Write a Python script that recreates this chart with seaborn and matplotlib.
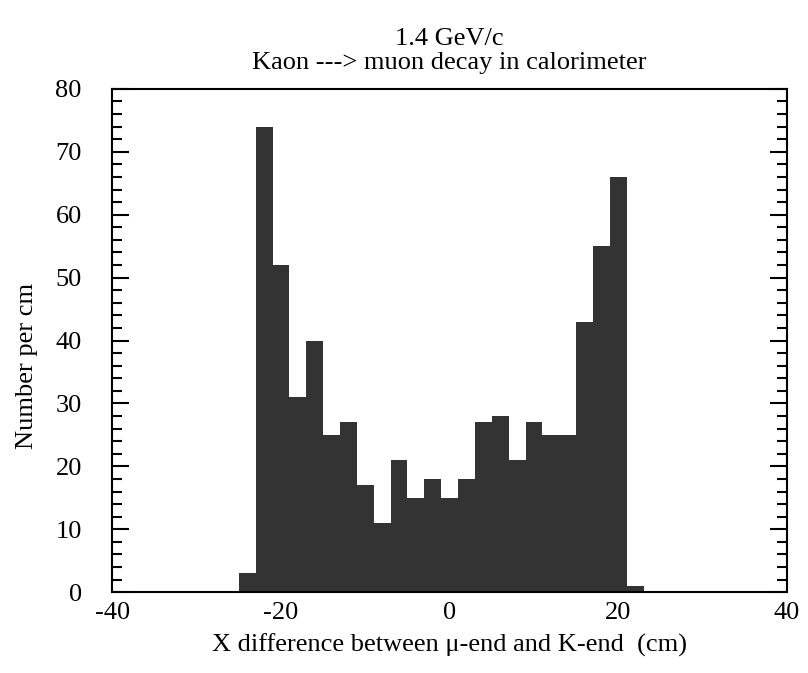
import numpy as np
import pandas as pd
import matplotlib
matplotlib.use("Agg")
import matplotlib.pyplot as plt
import seaborn as sns
from matplotlib.ticker import MultipleLocator

# 2 cm bins from -25 to 23
bin_edges = [-25, -23, -21, -19, -17, -15, -13, -11, -9, -7, -5, -3, -1,
             1, 3, 5, 7, 9, 11, 13, 15, 17, 19, 21, 23]
bin_centers = [-24, -22, -20, -18, -16, -14, -12, -10, -8, -6, -4, -2,
               0, 2, 4, 6, 8, 10, 12, 14, 16, 18, 20, 22]
counts = [3, 74, 52, 31, 40, 25, 27, 17, 11, 21, 15, 18,
          15, 18, 27, 28, 21, 27, 25, 25, 43, 55, 66, 1]

df = pd.DataFrame({'x': bin_centers, 'n': counts})

sns.set_style('ticks')
plt.rcParams['font.family'] = ['Liberation Serif', 'DejaVu Serif']
plt.rcParams['axes.unicode_minus'] = False
for k in ['text.color', 'axes.labelcolor', 'xtick.color', 'ytick.color', 'axes.edgecolor']:
    plt.rcParams[k] = 'black'

fig = plt.figure(figsize=(8.08, 6.73), dpi=100)
ax = fig.add_axes([0.139, 0.120, 0.835, 0.748])

sns.histplot(data=df, x='x', weights='n', bins=bin_edges, ax=ax,
             color='#333333', alpha=1, linewidth=0, element='bars')

ax.set_xlim(-40, 40)
ax.set_ylim(0, 80)
ax.xaxis.set_major_locator(MultipleLocator(20))
ax.yaxis.set_major_locator(MultipleLocator(10))
ax.yaxis.set_minor_locator(MultipleLocator(2))
ax.tick_params(axis='y', which='major', direction='in', length=12, width=1.5,
               left=True, right=True, labelsize=19, pad=22)
ax.tick_params(axis='y', which='minor', direction='in', length=7, width=1.5,
               left=True, right=True)
ax.tick_params(axis='x', which='both', length=0, labelsize=19, pad=7)
for s in ax.spines.values():
    s.set_linewidth(1.5)
    s.set_visible(True)

ax.set_xlabel('X difference between \u03bc-end and K-end  (cm)', fontsize=19, labelpad=7)
ax.set_ylabel('Number per cm', fontsize=19)
ax.yaxis.set_label_coords(-0.11, 0.45)
ax.set_title('1.4 GeV/c\nKaon ---> muon decay in calorimeter', fontsize=19,
             pad=14, linespacing=1.15)

fig.savefig('out.png', dpi=100)
